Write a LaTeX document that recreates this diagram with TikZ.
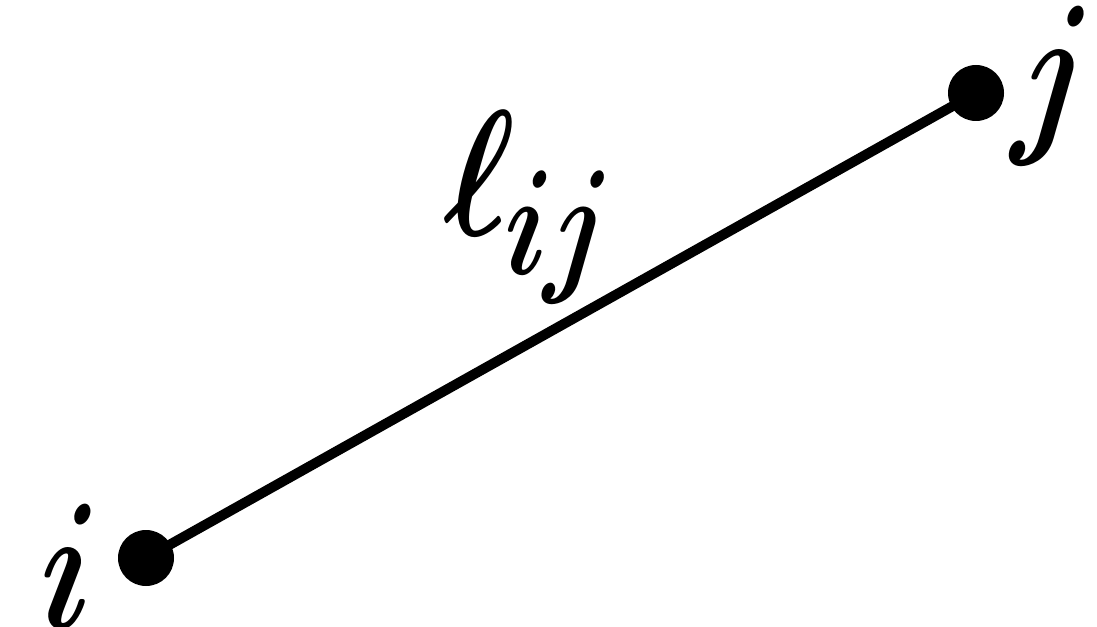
\documentclass[tikz,border=0pt]{standalone}
\tikzset{
  vertex/.style={circle, fill=black, inner sep=0pt, minimum size=0.56cm},
  edge/.style={line width=0.1cm, black},
  lbl/.style={inner sep=0pt, font=\Huge\boldmath, xslant=0.1, transform shape}
}
\newcommand{\bigmath}[1]{\scalebox{1.5}[2.05]{$#1$}}
\begin{document}
\begin{tikzpicture}
\useasboundingbox (0,0) rectangle (10.97,6.26);
\node[vertex] (vi) at (1.46,0.68) {};
\node[vertex] (vj) at (9.76,5.33) {};
\draw[edge] (vi.center) -- (vj.center);
\node[lbl, anchor=base] (li) at (0.62,-0.02) {\bigmath{i}};
\node[lbl, anchor=base] (lj) at (10.48,4.96) {\bigmath{j}};
\node[lbl, anchor=base west] (lij) at (4.42,3.91) {\bigmath{\ell_{ij}}};
\end{tikzpicture}
\end{document}
